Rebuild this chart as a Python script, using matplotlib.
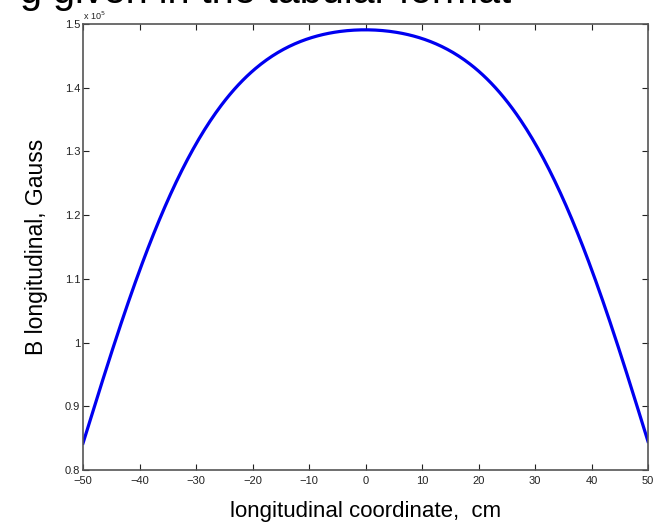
import numpy as np
import matplotlib
matplotlib.use('Agg')
import matplotlib.pyplot as plt
from matplotlib.ticker import FuncFormatter

plt.rcParams['font.family'] = ['Liberation Sans', 'DejaVu Sans']

### longitudinal coordinate (cm) and field (Gauss)
z_cm = [-50, -45, -40, -35, -30, -25, -20, -15, -10, -5, 0,
        5, 10, 15, 20, 25, 30, 35, 40, 45, 50]
b_gauss = [0.842e5, 0.985e5, 1.106e5, 1.229e5, 1.314e5, 1.376e5, 1.425e5, 1.457e5, 1.476e5, 1.489e5, 1.493e5,
           1.489e5, 1.476e5, 1.457e5, 1.425e5, 1.376e5, 1.316e5, 1.229e5, 1.110e5, 0.987e5, 0.845e5]

x_ticks = [-50, -40, -30, -20, -10, 0, 10, 20, 30, 40, 50]
y_ticks = [0.8e5, 0.9e5, 1.0e5, 1.1e5, 1.2e5, 1.3e5, 1.4e5, 1.5e5]

fig = plt.figure(figsize=(6.61, 5.26), dpi=100)
ax = fig.add_axes([83/661, 56/526, 565/661, 446/526])

# smooth the read-off points a bit for drawing
zz = np.linspace(-50, 50, 401)
coef = np.polyfit(z_cm, b_gauss, 6)
ax.plot(zz, np.polyval(coef, zz), color='#0000f0', lw=2.3)

ax.set_xlim(-50, 50)
ax.set_ylim(0.8e5, 1.5e5)
ax.set_xticks(x_ticks)
ax.set_yticks(y_ticks)
ax.yaxis.set_major_formatter(FuncFormatter(lambda v, _: '%g' % round(v / 1e5, 2)))
ax.tick_params(direction='in', top=True, right=True, length=4, width=0.8,
               labelsize=8, colors='#222222', pad=2)
ax.tick_params(axis='x', pad=4)
for s in ax.spines.values():
    s.set_color('#555555')
    s.set_linewidth(1.2)

ax.text(0.0, 1.005, r'x 10$^5$', transform=ax.transAxes, fontsize=6.5,
        ha='left', va='bottom', color='#222222')

ax.set_xlabel('longitudinal coordinate,  cm', fontsize=16, labelpad=11)
ax.set_ylabel('B longitudinal, Gauss', fontsize=16.5, labelpad=12)

# slide text cut off at the top edge
fig.text(20/661, 1 - 3/526, 'g given in the tabular format', fontsize=28.5,
         ha='left', va='baseline')

fig.savefig('out.png', dpi=100)
